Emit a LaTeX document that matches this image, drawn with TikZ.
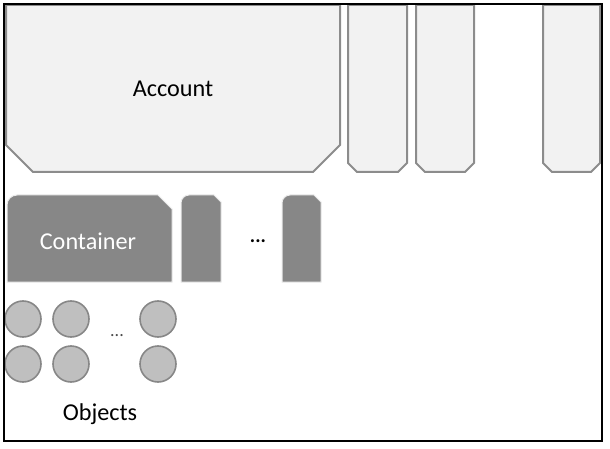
\documentclass[tikz,border=0pt]{standalone}
\usepackage{fontspec}
\setmainfont{Carlito}
\begin{document}
\begin{tikzpicture}[x=1pt,y=-1pt,
  acct/.style={fill=black!5,draw=black!45,line width=2pt,line join=miter},
  cont/.style={fill=black!47,draw=black!8,line width=1pt},
  obj/.style={circle,fill=black!25,draw=black!47,line width=1.6pt,minimum size=36pt,inner sep=0pt},
  lbl/.style={font=\fontsize{24.2}{27}\selectfont,inner sep=0pt}]
\useasboundingbox (0,0) rectangle (610,449);
% accounts
\draw[acct] (6,5) -- (340,5) -- (340,145) -- (313,172) -- (33,172) -- (6,145) -- cycle;
\draw[acct] (348,5) -- (407,5) -- (407,163) -- (398,172) -- (357,172) -- (348,163) -- cycle;
\draw[acct] (416,5) -- (474,5) -- (474,163) -- (465,172) -- (425,172) -- (416,163) -- cycle;
\draw[acct] (543,5) -- (600,5) -- (600,163) -- (591,172) -- (552,172) -- (543,163) -- cycle;
\node[lbl] (account) at (173,89) {Account};
% containers
\draw[cont] (7,282) [rounded corners=10pt] -- (7,195) [sharp corners] -- (158,195) -- (172,209) -- (172,282) -- cycle;
\draw[cont] (181,282) [rounded corners=8pt] -- (181,195) [sharp corners] -- (214,195) -- (221,202) -- (221,282) -- cycle;
\draw[cont] (282,282) [rounded corners=8pt] -- (282,195) [sharp corners] -- (314,195) -- (321,202) -- (321,282) -- cycle;
\node[lbl,text=white] (container) at (88,241) {Container};
\node[lbl,font=\bfseries\fontsize{20}{24}\selectfont] (cdots) at (258,241) {...};
% objects
\node[obj] (o11) at (23,319) {};
\node[obj] (o12) at (71,319) {};
\node[obj] (o13) at (158,319) {};
\node[obj] (o21) at (23,364) {};
\node[obj] (o22) at (71,364) {};
\node[obj] (o23) at (158,364) {};
\node[lbl,font=\fontsize{18}{22}\selectfont,text=black!70] (odots) at (117,336) {...};
\node[lbl] (objects) at (100,414) {Objects};
% frame
\draw[black,line width=1.2pt] (4,4) rectangle (602,441);
\end{tikzpicture}
\end{document}
